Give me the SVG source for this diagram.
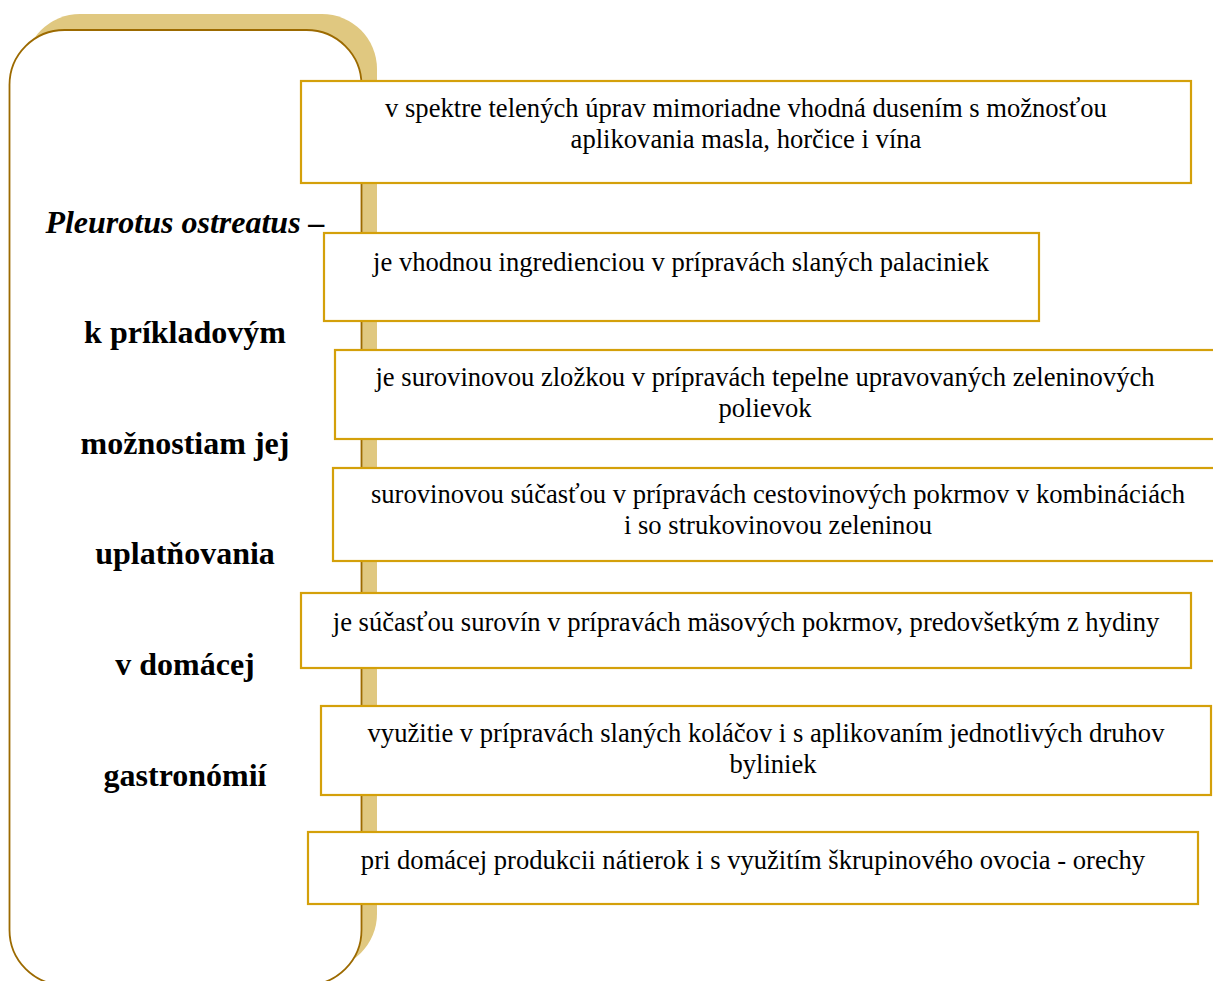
<svg xmlns="http://www.w3.org/2000/svg" width="1213" height="981" viewBox="0 0 1213 981">
<style>
.box{fill:#fff;stroke:#D4A00A;stroke-width:2.2}
.t{font-family:"Liberation Serif","Times New Roman",serif;font-size:26.6px;fill:#000;text-anchor:middle}
.h{font-family:"Liberation Serif","Times New Roman",serif;font-size:32px;font-weight:bold;fill:#000;text-anchor:middle}
</style>
<rect width="1213" height="981" fill="#fff"/>
<g id="panel">
<rect x="25" y="14" width="352" height="955" rx="55" ry="55" fill="#E0C880"/>
<rect x="9.5" y="30" width="352" height="955" rx="55" ry="55" fill="#fff" stroke="#9C6A00" stroke-width="1.8"/>
<text class="h" x="185" y="233" font-style="italic">Pleurotus ostreatus –</text>
<text class="h" x="185" y="343">k príkladovým</text>
<text class="h" x="185" y="454">možnostiam jej</text>
<text class="h" x="185" y="564">uplatňovania</text>
<text class="h" x="185" y="675">v domácej</text>
<text class="h" x="185" y="786">gastronómií</text>
</g>
<g id="connectors"></g>
<g id="n1">
<rect class="box" x="301" y="81" width="890" height="102"/>
<text class="t" x="746" y="117">v spektre telených úprav mimoriadne vhodná dusením s možnosťou</text>
<text class="t" x="746" y="148">aplikovania masla, horčice i vína</text>
</g>
<g id="n2">
<rect class="box" x="324" y="233" width="715" height="88"/>
<text class="t" x="681" y="271">je vhodnou ingredienciou v prípravách slaných palaciniek</text>
</g>
<g id="n3">
<rect class="box" x="335" y="350" width="890" height="89"/>
<text class="t" x="765" y="386">je surovinovou zložkou v prípravách tepelne upravovaných zeleninových</text>
<text class="t" x="765" y="417">polievok</text>
</g>
<g id="n4">
<rect class="box" x="333" y="468" width="890" height="93"/>
<text class="t" x="778" y="503">surovinovou súčasťou v prípravách cestovinových pokrmov v kombináciách</text>
<text class="t" x="778" y="534">i so strukovinovou zeleninou</text>
</g>
<g id="n5">
<rect class="box" x="301" y="593" width="890" height="75"/>
<text class="t" x="746" y="631">je súčasťou surovín v prípravách mäsových pokrmov, predovšetkým z hydiny</text>
</g>
<g id="n6">
<rect class="box" x="321" y="706" width="890" height="89"/>
<text class="t" x="766" y="742">využitie v prípravách slaných koláčov i s aplikovaním jednotlivých druhov</text>
<text class="t" x="773" y="773">byliniek</text>
</g>
<g id="n7">
<rect class="box" x="308" y="832" width="890" height="72"/>
<text class="t" x="753" y="869">pri domácej produkcii nátierok i s využitím škrupinového ovocia - orechy</text>
</g>
</svg>
